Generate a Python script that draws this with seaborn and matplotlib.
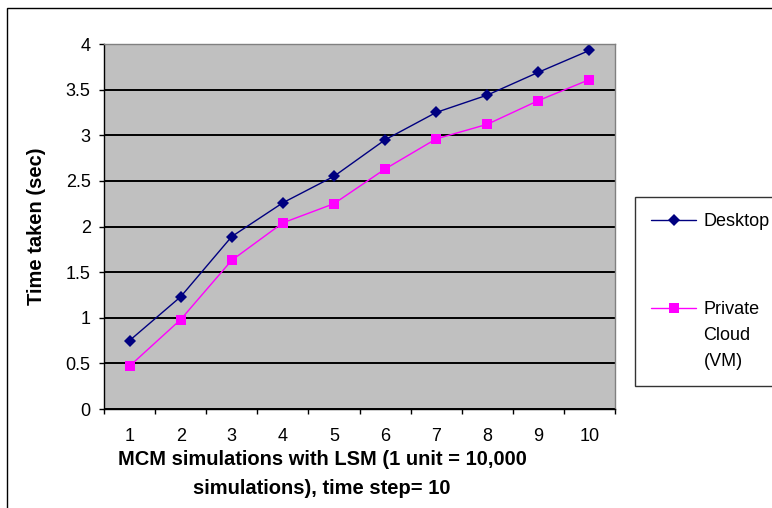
import matplotlib
matplotlib.use("Agg")
import matplotlib.pyplot as plt
import pandas as pd
import seaborn as sns
from matplotlib.patches import Rectangle
from matplotlib.ticker import FixedLocator

units = [1, 2, 3, 4, 5, 6, 7, 8, 9, 10]
desktop = [0.75, 1.23, 1.89, 2.26, 2.55, 2.95, 3.25, 3.44, 3.69, 3.93]
private_cloud = [0.47, 0.98, 1.63, 2.04, 2.25, 2.63, 2.96, 3.12, 3.38, 3.61]
series_names = ["Desktop", "Private\nCloud\n(VM)"]

df = pd.DataFrame({
    "units": units * 2,
    "time": desktop + private_cloud,
    "series": [series_names[0]] * len(units) + [series_names[1]] * len(units),
})

sns.set_theme(style="white")
plt.rcParams['font.family'] = ['Liberation Sans', 'DejaVu Sans']

fig = plt.figure(figsize=(7.72, 5.08), dpi=100)
ax = fig.add_axes([104 / 772, 99 / 508, 511 / 772, 365 / 508])

# outer chart border (right/bottom edges fall outside the picture)
fig.patches.append(Rectangle((7 / 772, -0.1), 1.2, (500 / 508) + 0.1, transform=fig.transFigure,
                             fill=False, edgecolor="black", linewidth=1))

ax.set_facecolor("#C0C0C0")
ax.set_axisbelow(True)
ax.yaxis.grid(True, color="black", linewidth=1.4)
ax.xaxis.grid(False)

sns.lineplot(data=df, x="units", y="time", hue="series", style="series",
             palette=["#000080", "#FF00FF"], markers=["D", "s"], dashes=False,
             markersize=6.5, linewidth=1, markeredgewidth=0, ax=ax)

ax.set_xlim(0.5, 10.5)
ax.set_ylim(0, 4)
ax.set_yticks([0, 0.5, 1, 1.5, 2, 2.5, 3, 3.5, 4])
ax.set_yticklabels(["0", "0.5", "1", "1.5", "2", "2.5", "3", "3.5", "4"])
ax.set_xticks(units)
ax.set_xticklabels([str(u) for u in units])
ax.xaxis.set_minor_locator(FixedLocator([u + 0.5 for u in range(0, 11)]))
ax.tick_params(axis="x", which="major", length=0, labelsize=13, pad=14, colors="black")
ax.tick_params(axis="x", which="minor", length=3.6, width=1, color="black", bottom=True)
ax.tick_params(axis="y", which="major", length=3.6, width=1, color="black", left=True,
               labelsize=13, pad=6, labelcolor="black")

for side in ["left", "bottom"]:
    ax.spines[side].set_color("black")
    ax.spines[side].set_linewidth(1)
for side in ["top", "right"]:
    ax.spines[side].set_color("#808080")
    ax.spines[side].set_linewidth(1)

ax.set_ylabel("Time taken (sec)", fontsize=14.5, fontweight="bold", color="black")
ax.yaxis.set_label_coords((46 - 104) / 511, 0.5)
ax.set_xlabel("MCM simulations with LSM (1 unit = 10,000\nsimulations), time step= 10",
              fontsize=14.5, fontweight="bold", linespacing=1.65, color="black")
ax.xaxis.set_label_coords((322 - 104) / 511, (409 - 450) / 365)

handles, labels = ax.get_legend_handles_labels()
leg = ax.legend(handles, labels, loc="upper left", bbox_to_anchor=(635 / 772, 1 - 197 / 508),
                bbox_transform=fig.transFigure, frameon=True, fancybox=False,
                edgecolor="black", fontsize=13, labelspacing=3.9, handlelength=2.5,
                handletextpad=0.4, borderpad=0.9, borderaxespad=0)
leg.get_frame().set_linewidth(1)
leg.get_frame().set_facecolor("white")
for t in leg.get_texts():
    t.set_linespacing(1.7)
    t.set_color("black")
# the pink handle sits beside the first line "Private", as in the original
pink = leg.legend_handles[1]
pink.set_ydata([y + 20 for y in pink.get_ydata()])

fig.savefig("out.png", dpi=100)
